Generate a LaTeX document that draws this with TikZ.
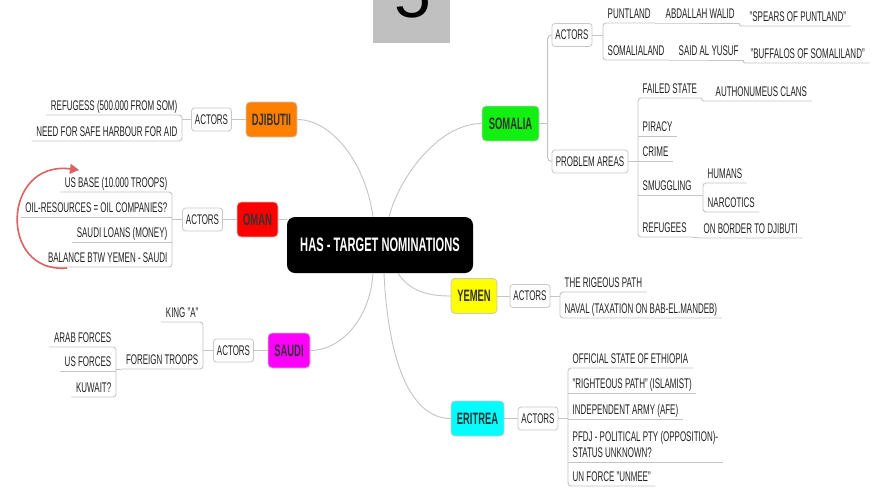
\documentclass[tikz,border=0pt]{standalone}
\usepackage{fontspec}
\setmainfont{Liberation Sans}[FakeStretch=0.57]
\newfontfamily\digitfont{Liberation Sans}
\usetikzlibrary{arrows.meta}

\definecolor{linegray}{HTML}{C4C4C4}
\definecolor{boxgray}{HTML}{C8C8C8}
\definecolor{slidegray}{HTML}{C0C0C0}
\definecolor{leafink}{HTML}{222222}
\definecolor{countryink}{HTML}{333333}
\definecolor{arrowred}{HTML}{DB6262}
\definecolor{cOrange}{HTML}{FF8000}
\definecolor{cRed}{HTML}{FF0000}
\definecolor{cMagenta}{HTML}{FF00FF}
\definecolor{cGreen}{HTML}{11F011}
\definecolor{cYellow}{HTML}{FFFF00}
\definecolor{cCyan}{HTML}{00FFFF}

% underline of a single leaf topic
\newcommand\mmunder[1]{\draw[conn] (#1.south west) -- (#1.south east);}
% bracket joining the first and last leaf of a right-hand group
\newcommand\mmbrR[2]{\draw[conn,rounded corners=3pt] (#1.south east) -- (#1.south west) |- (#2.south east);}
% bracket joining the first and last leaf of a left-hand group
\newcommand\mmbrL[2]{\draw[conn,rounded corners=3pt] (#1.south west) -- (#1.south east) |- (#2.south west);}
% parent topic to the trunk of its right-hand leaves
\newcommand\mmjoinR[2]{\draw[conn] (#1.east) -- (#1.east -| #2.south west);}
% parent topic to the trunk of its left-hand leaves
\newcommand\mmjoinL[2]{\draw[conn] (#1.west) -- (#1.west -| #2.south east);}

\begin{document}
\begin{tikzpicture}[x=1pt,y=-1pt,
  conn/.style={draw=linegray, line width=0.9pt},
  leaf/.style={inner xsep=4.5pt, inner ysep=1.5pt, text height=10pt, text depth=2.5pt,
    font=\fontsize{14}{16}\selectfont, text=leafink},
  leafR/.style={leaf, anchor=south west},
  leafL/.style={leaf, anchor=south east},
  topicbox/.style={draw=boxgray, fill=white, rounded corners=3pt, line width=0.8pt,
    minimum width=40pt, minimum height=23pt, inner sep=2pt,
    font=\fontsize{14}{16}\selectfont, text=leafink},
  country/.style={draw=boxgray, line width=0.8pt, rounded corners=4pt, minimum height=35pt,
    inner sep=0pt, font=\bfseries\fontsize{16.5}{16.5}\selectfont, text=countryink},
  hubbox/.style={fill=black, rounded corners=8pt, minimum width=186pt, minimum height=56pt,
    inner sep=0pt, text=white, font=\bfseries\fontsize{19.5}{19.5}\selectfont},
  redarrow/.style={draw=arrowred, line width=1.6pt, -{Triangle[length=9pt,width=10pt]}}
]
\useasboundingbox (0,0) rectangle (874,491);
\fill[white] (0,0) rectangle (874,491);

% slide number tab
\begin{scope}
  \clip (373,0) rectangle (450,43);
  \fill[slidegray] (373,0) rectangle (450,43);
  \node[anchor=base, inner sep=0pt, font=\digitfont\fontsize{66}{66}\selectfont] (num) at (413,17) {5};
\end{scope}

% central topic
\node[hubbox] (hub) at (380,245) {HAS - TARGET NOMINATIONS};

% main branches
\node[country, fill=cOrange,  minimum width=51pt] (dj) at (271.5,119.5) {DJIBUTII};
\node[country, fill=cRed,     minimum width=41pt] (om) at (257.5,219.5) {OMAN};
\node[country, fill=cMagenta, minimum width=42pt] (sau) at (289,350.5) {SAUDI};
\node[country, fill=cGreen,   minimum width=57pt] (so) at (510.5,123.5) {SOMALIA};
\node[country, fill=cYellow,  minimum width=46pt] (ye) at (474,296) {YEMEN};
\node[country, fill=cCyan,    minimum width=53pt] (er) at (477.5,418.5) {ERITREA};

\draw[conn] (dj.east) .. controls (330,119.5) and (365,160) .. ([xshift=-7pt]hub.north);
\draw[conn] (so.west) .. controls (440,123.5) and (400,175) .. ([xshift=9pt]hub.north);
\draw[conn] (om.east) -- (om.east -| hub.west);
\draw[conn] (sau.east) .. controls (340,350.5) and (370,320) .. ([xshift=-7pt]hub.south);
\draw[conn] (er.west) .. controls (410,418.5) and (388,360) .. ([xshift=4pt]hub.south);
\draw[conn] (ye.west) .. controls (430,296) and (410,292) .. ([xshift=18pt]hub.south);

% ---------------- Somalia ----------------
\node[topicbox] (sa) at (572,35) {ACTORS};
\node[topicbox, minimum width=76pt] (spa) at (590,161.5) {PROBLEM AREAS};
\draw[conn] (so.east) -- ++(9,0);
\draw[conn, rounded corners=4pt] (sa.west) -- ++(-4,0) |- (spa.west);

\node[leafR] (pl) at (603,23) {PUNTLAND};
\node[leafR] (aw) at (661,23) {ABDALLAH WALID};
\node[leafR] (sp) at (745,26) {"SPEARS OF PUNTLAND"};
\node[leafR] (sl) at (603,60) {SOMALIALAND};
\node[leafR] (sy) at (674,60) {SAID AL YUSUF};
\node[leafR] (bf) at (746,63) {"BUFFALOS OF SOMALILAND"};
\mmjoinR{sa}{pl}
\mmbrR{pl}{sl}
\draw[conn] (pl.south east) -- (aw.south west) -- (aw.south east);
\draw[conn, rounded corners=2pt] (aw.south east) |- (sp.south west) -- (sp.south east);
\draw[conn] (sl.south east) -- (sy.south west) -- (sy.south east);
\draw[conn, rounded corners=2pt] (sy.south east) |- (bf.south west) -- (bf.south east);

\node[leafR] (fs) at (638,98) {FAILED STATE};
\node[leafR] (ac) at (711,101) {AUTHONUMEUS CLANS};
\node[leafR] (pi) at (638,136) {PIRACY};
\node[leafR] (cr) at (638,161) {CRIME};
\node[leafR] (sm) at (638,195) {SMUGGLING};
\node[leafR] (hu) at (703,183) {HUMANS};
\node[leafR] (na) at (703,212) {NARCOTICS};
\node[leafR] (rf) at (638,237) {REFUGEES};
\node[leafR] (ob) at (699,238) {ON BORDER TO DJIBUTI};
\mmjoinR{spa}{fs}
\mmbrR{fs}{rf}
\mmunder{pi}
\mmunder{cr}
\mmunder{sm}
\draw[conn, rounded corners=2pt] (fs.south east) |- (ac.south west) -- (ac.south east);
\draw[conn] (sm.south east) -- (sm.south east -| hu.south west);
\mmbrR{hu}{na}
\draw[conn, rounded corners=2pt] (rf.south east) -- (ob.south west) -- (ob.south east);

% ---------------- Yemen ----------------
\node[topicbox] (ya) at (530,296) {ACTORS};
\draw[conn] (ye.east) -- (ya.west);
\node[leafR] (rp) at (560,292) {THE RIGEOUS PATH};
\node[leafR] (nv) at (560,318) {NAVAL (TAXATION ON BAB-EL.MANDEB)};
\mmjoinR{ya}{rp}
\mmbrR{rp}{nv}

% ---------------- Eritrea ----------------
\node[topicbox] (ea) at (538,418.5) {ACTORS};
\draw[conn] (er.east) -- (ea.west);
\node[leafR] (e1) at (568,368) {OFFICIAL STATE OF ETHIOPIA};
\node[leafR] (e2) at (568,393) {"RIGHTEOUS PATH" (ISLAMIST)};
\node[leafR] (e3) at (568,419) {INDEPENDENT ARMY (AFE)};
\node[leafR, align=left] (e4) at (568,462) {PFDJ - POLITICAL PTY (OPPOSITION)-\\STATUS UNKNOWN?};
\node[leafR] (e5) at (568,486) {UN FORCE "UNMEE"};
\mmjoinR{ea}{e1}
\mmbrR{e1}{e5}
\mmunder{e2}
\mmunder{e3}
\mmunder{e4}

% ---------------- Djibouti ----------------
\node[topicbox] (da) at (211.5,119.5) {ACTORS};
\draw[conn] (dj.west) -- (da.east);
\node[leafL] (d1) at (182,115) {REFUGESS (500.000 FROM SOM)};
\node[leafL] (d2) at (182,141) {NEED FOR SAFE HARBOUR FOR AID};
\mmjoinL{da}{d1}
\mmbrL{d1}{d2}

% ---------------- Oman ----------------
\node[topicbox] (oa) at (202.5,219.5) {ACTORS};
\draw[conn] (om.west) -- (oa.east);
\node[leafL] (o1) at (172,192) {US BASE (10.000 TROOPS)};
\node[leafL] (o2) at (172,217) {OIL-RESOURCES = OIL COMPANIES?};
\node[leafL] (o3) at (172,242) {SAUDI LOANS (MONEY)};
\node[leafL] (o4) at (172,267) {BALANCE BTW YEMEN - SAUDI};
\mmjoinL{oa}{o1}
\mmbrL{o1}{o4}
\mmunder{o2}
\mmunder{o3}

% loop arrow beside the Oman topics
\coordinate (loopstart) at (67,268);
\coordinate (loopend) at (79,170);
\draw[redarrow] (loopstart) .. controls (-2,274) and (2,160) .. (loopend);

% ---------------- Saudi ----------------
\node[topicbox] (ka) at (233.5,350.5) {ACTORS};
\draw[conn] (sau.west) -- (ka.east);
\node[leafL] (k1) at (203,322) {KING "A"};
\node[leafL] (ft) at (203,369) {FOREIGN TROOPS};
\mmjoinL{ka}{k1}
\mmbrL{k1}{ft}
\node[leafL] (f1) at (116,347) {ARAB FORCES};
\node[leafL] (f2) at (116,371) {US FORCES};
\node[leafL] (f3) at (116,397) {KUWAIT?};
\draw[conn] (ft.south west) -- (ft.south west -| f1.south east);
\mmbrL{f1}{f3}
\mmunder{f2}

\end{tikzpicture}
\end{document}
